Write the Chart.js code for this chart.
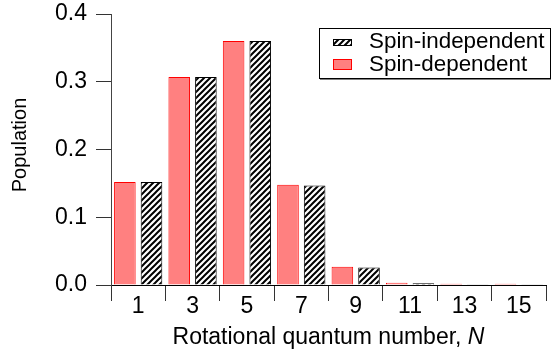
<!DOCTYPE html>
<html>
<head>
<meta charset="utf-8">
<script src="https://cdn.jsdelivr.net/npm/chart.js@4"></script>
<style>
  html, body { margin: 0; padding: 0; background: #fff; }
  #wrap { width: 552px; height: 356px; }
</style>
</head>
<body>
<div id="wrap"><canvas id="popChart" width="552" height="356"></canvas></div>
<script>
// data
const rotLevels = ["1", "3", "5", "7", "9", "11", "13", "15"];
const spinDependent = [0.152, 0.307, 0.360, 0.148, 0.027, 0.0035, 0.0018, 0.0018];
const spinIndependent = [0.152, 0.307, 0.360, 0.147, 0.026, 0.0025, 0.001, 0.001];
const yTicks = [0, 0.1, 0.2, 0.3, 0.4];

const FONT = "'Liberation Sans', Arial, Helvetica, sans-serif";
const FS = 23;

// diagonal hatch like ////
function makeHatch(){
  let c = document.createElement("canvas");
  c.width = 6;
  c.height = 6;
  let g = c.getContext("2d");
  g.fillStyle = "#fff";
  g.fillRect(0, 0, 6, 6);
  g.strokeStyle = "#000";
  g.lineWidth = 2;
  g.beginPath();
  g.moveTo(-1, 7); g.lineTo(7, -1);
  g.moveTo(-1, 1); g.lineTo(1, -1);
  g.moveTo(5, 7); g.lineTo(7, 5);
  g.stroke();
  return document.getElementById("popChart").getContext("2d").createPattern(c, "repeat");
}
const hatch = makeHatch();

// titles + boxed legend
const extras = {
  id: "extras",
  afterDraw(chart){
    const ctx = chart.ctx;
    const area = chart.chartArea;
    ctx.save();
    ctx.fillStyle = "#000";

    // x title with italic N
    ctx.font = FS + "px " + FONT;
    let t1 = "Rotational quantum number, ";
    let w1 = ctx.measureText(t1).width;
    ctx.font = "italic " + FS + "px " + FONT;
    let w2 = ctx.measureText("N").width;
    let x0 = (area.left + area.right) / 2 - (w1 + w2) / 2;
    ctx.textBaseline = "alphabetic";
    ctx.textAlign = "left";
    ctx.font = FS + "px " + FONT;
    ctx.fillText(t1, x0, area.bottom + 59);
    ctx.font = "italic " + FS + "px " + FONT;
    ctx.fillText("N", x0 + w1, area.bottom + 59);

    // y title
    ctx.font = "20px " + FONT;
    ctx.translate(20, 145);
    ctx.rotate(-Math.PI / 2);
    ctx.textAlign = "center";
    ctx.textBaseline = "middle";
    ctx.fillText("Population", 0, 0);
    ctx.setTransform(1, 0, 0, 1, 0, 0);

    // legend box
    ctx.strokeStyle = "#000";
    ctx.lineWidth = 1;
    ctx.strokeRect(319.5, 28.5, 231, 50);
    ctx.fillRect(320, 78, 231, 1.5);

    let ds = chart.data.datasets;
    ctx.font = "22.4px " + FONT;
    ctx.textAlign = "left";
    ctx.textBaseline = "middle";
    // hatched entry first
    ctx.fillStyle = hatch;
    ctx.fillRect(333, 39, 19, 7);
    ctx.strokeRect(333.5, 39.5, 18, 6);
    ctx.fillStyle = "#000";
    ctx.fillText(ds[1].label, 369, 42);
    // red entry
    ctx.fillStyle = ds[0].backgroundColor;
    ctx.fillRect(333, 59, 19, 11);
    ctx.strokeStyle = ds[0].borderColor;
    ctx.strokeRect(333.5, 59.5, 18, 10);
    ctx.fillStyle = "#000";
    ctx.fillText(ds[0].label, 369, 65);
    ctx.restore();
  }
};

new Chart(document.getElementById("popChart"), {
  type: "bar",
  data: {
    labels: rotLevels,
    datasets: [
      {
        label: "Spin-dependent",
        data: spinDependent,
        backgroundColor: "#ff8080",
        borderColor: "#ff0000",
        borderWidth: 1,
        categoryPercentage: 0.98,
        barPercentage: 0.81
      },
      {
        label: "Spin-independent",
        data: spinIndependent,
        backgroundColor: hatch,
        borderColor: "#000",
        borderWidth: 1,
        categoryPercentage: 0.98,
        barPercentage: 0.81
      }
    ]
  },
  options: {
    responsive: false,
    animation: false,
    layout: { padding: { top: 14, right: 6, left: 0, bottom: 0 } },
    plugins: {
      legend: { display: false },
      tooltip: { enabled: false }
    },
    scales: {
      x: {
        grid: {
          offset: true,
          drawOnChartArea: false,
          drawTicks: true,
          tickLength: 16,
          color: "#333"
        },
        border: { display: true, color: "#000", width: 1 },
        ticks: {
          color: "#000",
          padding: -6,
          font: { family: FONT, size: FS, lineHeight: 1 }
        },
        afterFit(scale){
          scale.height = 71;
          scale.paddingLeft = 0;
          scale.paddingRight = 0;
        }
      },
      y: {
        min: 0,
        max: 0.4,
        afterBuildTicks(scale){
          scale.ticks = yTicks.map(v => ({ value: v }));
        },
        grid: {
          drawOnChartArea: false,
          drawTicks: true,
          tickLength: 15,
          color: "#333"
        },
        border: { display: true, color: "#444", width: 1 },
        ticks: {
          color: "#000",
          padding: 9,
          font: { family: FONT, size: FS, lineHeight: 1 },
          callback: v => v.toFixed(1)
        },
        afterFit(scale){
          scale.width = 111;
          scale.paddingTop = 0;
          scale.paddingBottom = 0;
        }
      }
    }
  },
  plugins: [extras]
});
</script>
</body>
</html>
